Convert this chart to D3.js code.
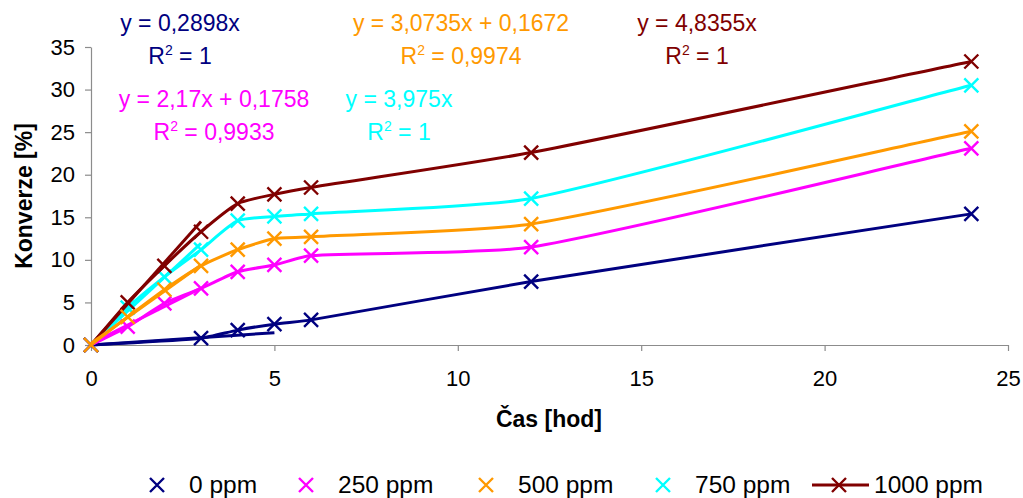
<!DOCTYPE html>
<html>
<head>
<meta charset="utf-8">
<script src="https://cdn.jsdelivr.net/npm/d3@7"></script>
<style>
  body { margin: 0; background: #fff; }
  text { font-family: "Liberation Sans", Arial, sans-serif; }
</style>
</head>
<body>
<svg id="chart" width="1023" height="498"></svg>
<script>
// data
var hours = [0, 1, 2, 3, 4, 5, 6, 12, 24];
var names = ["0 ppm", "250 ppm", "500 ppm", "750 ppm", "1000 ppm"];
var colors = ["#000080", "#ff00ff", "#ff9900", "#00ffff", "#800000"];
var conv0 = [0, null, null, 0.8, 1.75, 2.45, 2.95, 7.45, 15.4];
var conv250 = [0, 2.15, 4.9, 6.65, 8.6, 9.4, 10.5, 11.5, 23.1];
var conv500 = [0, 3.3, 6.5, 9.3, 11.2, 12.5, 12.7, 14.2, 25.1];
var conv750 = [0, 4.4, 8.0, 11.2, 14.6, 15.1, 15.4, 17.2, 30.5];
var conv1000 = [0, 5.0, 9.3, 13.3, 16.6, 17.7, 18.5, 22.6, 33.3];
// linear trend lines: slope, intercept, last hour of the fit
var trendSlope = [0.2898, 2.17, 3.0735, 3.975, 4.8355];
var trendIntercept = [0, 0.1758, 0.1672, 0, 0];
var trendEnd = [5, 3, 3, 3, 3];
var eqText = ["y = 0,2898x", "y = 2,17x + 0,1758", "y = 3,0735x + 0,1672", "y = 3,975x", "y = 4,8355x"];
var r2Text = ["1", "0,9933", "0,9974", "1", "1"];
var xTicks = [0, 5, 10, 15, 20, 25];
var yTicks = [0, 5, 10, 15, 20, 25, 30, 35];

var allConv = [conv0, conv250, conv500, conv750, conv1000];

var svg = d3.select("#chart");
var x = d3.scaleLinear().domain([0, 25]).range([91, 1008]);
var y = d3.scaleLinear().domain([0, 35]).range([345, 47]);

// axes
var xAxis = svg.append("g")
	.attr("transform", "translate(0," + y(0) + ")")
	.call(d3.axisBottom(x).tickValues(xTicks).tickSize(6).tickPadding(19).tickSizeOuter(0));
var yAxis = svg.append("g")
	.attr("transform", "translate(" + x(0) + ",0)")
	.call(d3.axisLeft(y).tickValues(yTicks).tickSize(6).tickPadding(10).tickSizeOuter(0));

[xAxis, yAxis].forEach(function(a){
	a.select(".domain").attr("stroke", "#8c8c8c").attr("stroke-width", 1.2);
	a.selectAll(".tick line").attr("stroke", "#8c8c8c").attr("stroke-width", 1.2);
	a.selectAll(".tick text").attr("fill", "#000").style("font-size", "22px")
		.style("font-family", "'Liberation Sans', Arial, sans-serif");
});

svg.append("text")
	.attr("x", 549).attr("y", 427)
	.attr("text-anchor", "middle")
	.style("font-size", "23px").style("font-weight", "bold")
	.text("Čas [hod]");

svg.append("text")
	.attr("transform", "translate(32,196) rotate(-90)")
	.attr("text-anchor", "middle")
	.style("font-size", "23px").style("font-weight", "bold")
	.text("Konverze [%]");

// smoothed line: bezier segments, tangent from the neighbours,
// short arms so long segments stay nearly straight
var armFactor = 0.2;
function smoothLine(pts){
	var n = pts.length, u = [];
	for (var i = 0; i < n; i++) {
		var a = pts[Math.max(i - 1, 0)], b = pts[Math.min(i + 1, n - 1)];
		var dx = b[0] - a[0], dy = b[1] - a[1], len = Math.sqrt(dx * dx + dy * dy) || 1;
		u.push([dx / len, dy / len]);
	}
	var p = d3.path();
	p.moveTo(pts[0][0], pts[0][1]);
	for (var j = 0; j < n - 1; j++) {
		var p0 = pts[j], p1 = pts[j + 1];
		var L = Math.sqrt(Math.pow(p1[0] - p0[0], 2) + Math.pow(p1[1] - p0[1], 2)) * armFactor;
		p.bezierCurveTo(p0[0] + u[j][0] * L, p0[1] + u[j][1] * L,
			p1[0] - u[j + 1][0] * L, p1[1] - u[j + 1][1] * L, p1[0], p1[1]);
	}
	return p.toString();
}

function xMark(g, cx, cy, col, s){
	g.append("path")
		.attr("d", "M" + (cx - s) + "," + (cy - s) + "L" + (cx + s) + "," + (cy + s) +
			"M" + (cx - s) + "," + (cy + s) + "L" + (cx + s) + "," + (cy - s))
		.attr("stroke", col).attr("stroke-width", 2.4).attr("fill", "none");
}

var drawOrder = [0, 1, 3, 4, 2];
drawOrder.forEach(function(i){
	var pts = hours.map(function(h, j){ return {h: h, v: allConv[i][j]}; })
		.filter(function(d){ return d.v !== null; });
	var g = svg.append("g");
	g.append("path")
		.attr("d", smoothLine(pts.map(function(d){ return [x(d.h), y(d.v)]; })))
		.attr("fill", "none")
		.attr("stroke", colors[i])
		.attr("stroke-width", 3);
	g.append("line")
		.attr("x1", x(0)).attr("y1", y(trendIntercept[i]))
		.attr("x2", x(trendEnd[i])).attr("y2", y(trendSlope[i] * trendEnd[i] + trendIntercept[i]))
		.attr("stroke", colors[i]).attr("stroke-width", 3);
	pts.forEach(function(d){ xMark(g, x(d.h), y(d.v), colors[i], 7); });
});

// trend equations
var eqX = [180, 214, 461, 399, 697];
var eqY = [31, 107, 31, 107, 31];
eqText.forEach(function(t, i){
	svg.append("text")
		.attr("x", eqX[i]).attr("y", eqY[i])
		.attr("text-anchor", "middle")
		.attr("fill", colors[i])
		.style("font-size", "23px")
		.text(t);
	var r = svg.append("text")
		.attr("x", eqX[i]).attr("y", eqY[i] + 33)
		.attr("text-anchor", "middle")
		.attr("fill", colors[i])
		.style("font-size", "23px");
	r.append("tspan").text("R");
	r.append("tspan").attr("dy", -9).style("font-size", "14px").text("2");
	r.append("tspan").attr("dy", 9).text(" = " + r2Text[i]);
});

// legend
var legX = [157, 306, 486, 663, 839];
names.forEach(function(n, i){
	var g = svg.append("g");
	if (i === 4) {
		g.append("line")
			.attr("x1", legX[i] - 27).attr("x2", legX[i] + 30)
			.attr("y1", 485).attr("y2", 485)
			.attr("stroke", colors[i]).attr("stroke-width", 3);
	}
	xMark(g, legX[i], 485, colors[i], 7);
	g.append("text")
		.attr("x", legX[i] + (i === 4 ? 35 : 32)).attr("y", 493)
		.style("font-size", "24.5px")
		.text(n);
});
</script>
</body>
</html>
